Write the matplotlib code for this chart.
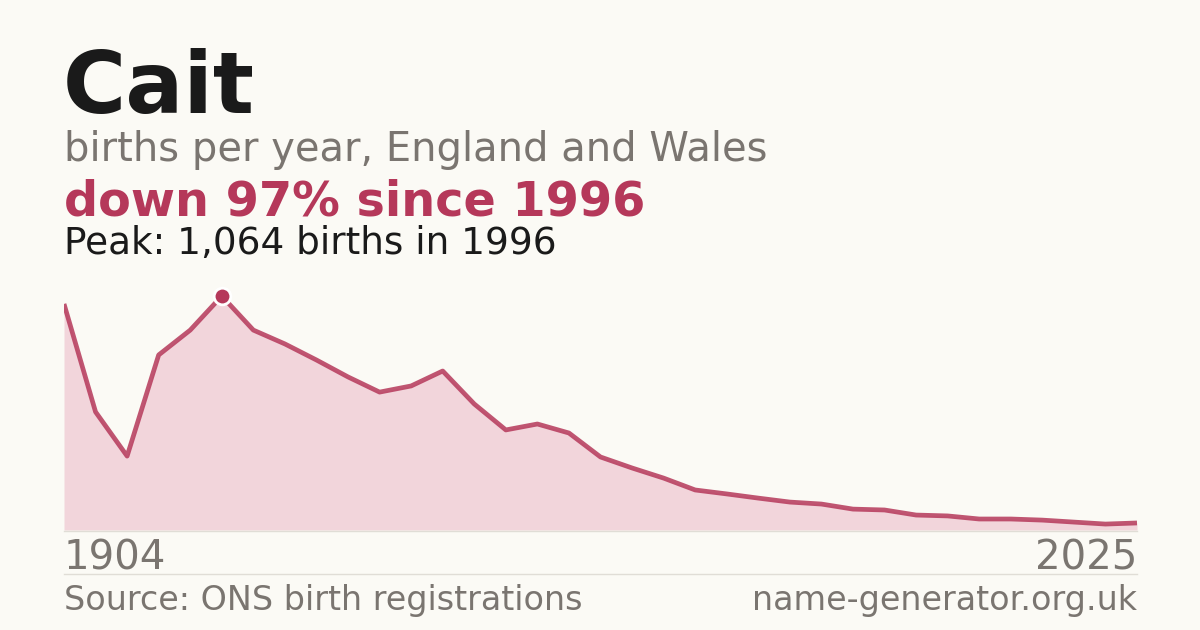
import matplotlib
matplotlib.use("Agg")
import matplotlib.pyplot as plt

# births per year, index 0 .. 34 (peak at index 5)
years = list(range(1991, 2026))
births = [1028, 537, 336, 796, 909, 1064, 909, 846, 773, 696,
          627, 655, 723, 573, 455, 482, 441, 332, 282, 236,
          182, 164, 145, 127, 118, 95, 91, 68, 64, 50,
          50, 45, 36, 27, 32]
peak_year = 1996
peak_value = 1064
start_label = "1904"
end_label = "2025"

BG = "#fbfaf5"
RED = "#b5385a"
FILL = "#f2d5db"
GREY = "#7a7570"
DARK = "#1a1a1a"
RULE = "#e0ddd6"

plt.rcParams['font.family'] = ['DejaVu Sans']

W, H = 1200, 630
fig = plt.figure(figsize=(12, 6.3), dpi=100, facecolor=BG)


def fy(y):
    return 1 - y / H


def fx(x):
    return x / W


# plot area in pixels: x 64..1137, y 296 (peak) .. 530 (zero)
ax = fig.add_axes([fx(64), fy(530), fx(1137) - fx(64), (530 - 296) / H])
ax.set_facecolor("none")
ax.fill_between(years, births, 0, color=FILL, linewidth=0)
ax.plot(years, births, color=RED, linewidth=3.4, alpha=0.85,
        solid_joinstyle="round", solid_capstyle="butt")
ax.plot([peak_year], [peak_value], "o", color=RED, markersize=12,
        markeredgecolor="white", markeredgewidth=2, clip_on=False, zorder=5)
ax.set_xlim(years[0], years[-1])
ax.set_ylim(0, peak_value)
ax.axis("off")

# rules
fig.add_artist(plt.Line2D([fx(64), fx(1137)], [fy(530.5), fy(530.5)],
                          color=RULE, linewidth=1))
fig.add_artist(plt.Line2D([fx(64), fx(1137)], [fy(574), fy(574)],
                          color=RULE, linewidth=1))

# headings
fig.text(fx(63), fy(113), "Cait", fontsize=62, fontweight="bold",
         color=DARK, va="baseline")
fig.text(fx(64), fy(161), "births per year, England and Wales",
         fontsize=28.8, color=GREY, va="baseline")
fig.text(fx(64), fy(215), "down 97% since 1996", fontsize=34.4,
         fontweight="bold", color=RED, va="baseline")
fig.text(fx(64), fy(254), "Peak: 1,064 births in 1996", fontsize=26.9,
         color=DARK, va="baseline")

# axis end labels
fig.text(fx(64), fy(569), start_label, fontsize=29, color=GREY,
         va="baseline", ha="left")
fig.text(fx(1137), fy(569), end_label, fontsize=29, color=GREY,
         va="baseline", ha="right")

# footer
fig.text(fx(64), fy(610), "Source: ONS birth registrations", fontsize=24,
         color=GREY, va="baseline", ha="left")
fig.text(fx(1137), fy(610), "name-generator.org.uk", fontsize=24,
         color=GREY, va="baseline", ha="right")

fig.savefig("out.png", dpi=100, facecolor=BG)
